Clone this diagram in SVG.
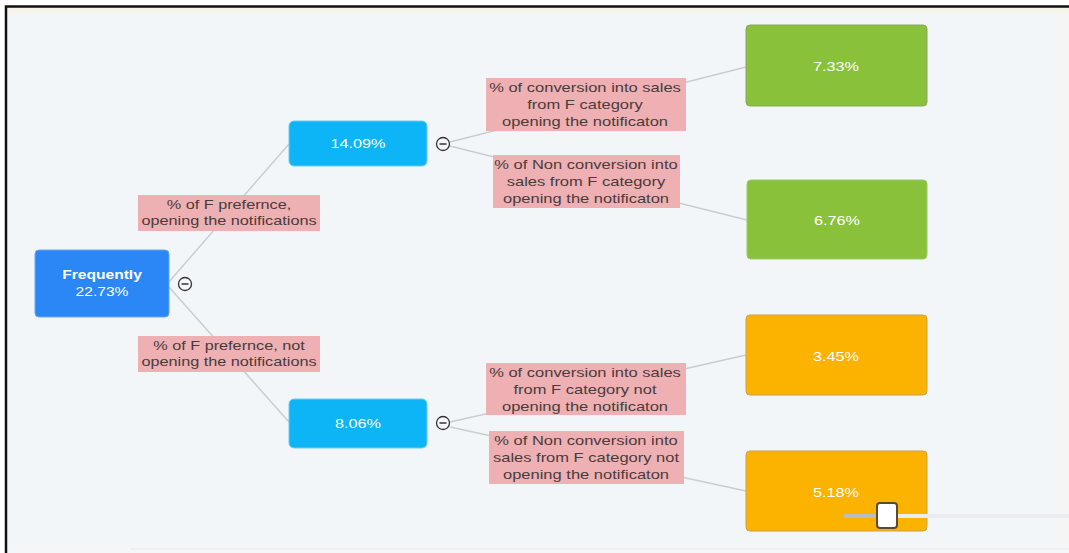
<svg xmlns="http://www.w3.org/2000/svg" width="1069" height="553" viewBox="0 0 1069 553">
<defs>
<style>
.bg{fill:#f3f6f9}
.edge{stroke:#c9cdd1;stroke-width:1.5;fill:none}
.node text{font-family:"Liberation Sans",Arial,sans-serif;font-size:13px;fill:#ffffff;text-anchor:middle}
.lbl rect{fill:#eeb0b2}
.lbl text{font-family:"Liberation Sans",Arial,sans-serif;font-size:13px;fill:#4a3b3c;text-anchor:middle}
.tog circle{fill:#f5f7fa;stroke:#333;stroke-width:1.3}
.tog line{stroke:#333;stroke-width:1.5}
</style>
</defs>
<rect x="0" y="0" width="1069" height="553" fill="#ffffff"/>
<rect x="7" y="7" width="1062" height="546" class="bg"/>
<rect x="8" y="8" width="1061" height="6" fill="#f7f4ec"/>
<rect x="1058" y="14" width="11" height="530" fill="#f5f5f5"/>
<rect x="8" y="544" width="1061" height="9" fill="#f5f6f7"/>
<line x1="130" y1="549" x2="1069" y2="549" stroke="#e6e8ea" stroke-width="1"/>
<path d="M6 553 V6.5 H1069" fill="none" stroke="#111" stroke-width="2.5"/>

<g id="connectors">
<line class="edge" x1="168" y1="283" x2="289" y2="144"/>
<line class="edge" x1="168" y1="286" x2="289" y2="422"/>
<line class="edge" x1="450" y1="142" x2="746" y2="67"/>
<line class="edge" x1="450" y1="146" x2="747" y2="220"/>
<line class="edge" x1="450" y1="422" x2="746" y2="355"/>
<line class="edge" x1="450" y1="427" x2="746" y2="491"/>
</g>

<g id="label-a" class="lbl"><rect x="138" y="195" width="182" height="36"/><g transform="translate(229,0) scale(1.25,1)"><text x="0" y="209">% of F prefernce,</text><text x="0" y="225">opening the notifications</text></g></g>
<g id="label-b" class="lbl"><rect x="138" y="336" width="182" height="36"/><g transform="translate(229,0) scale(1.25,1)"><text x="0" y="350">% of F prefernce, not</text><text x="0" y="366">opening the notifications</text></g></g>
<g id="label-c" class="lbl"><rect x="486" y="78" width="200" height="53"/><g transform="translate(585,0) scale(1.27,1)"><text x="0" y="92">% of conversion into sales</text><text x="0" y="109">from F category</text><text x="0" y="126">opening the notificaton</text></g></g>
<g id="label-d" class="lbl"><rect x="493" y="155" width="187" height="53"/><g transform="translate(586,0) scale(1.27,1)"><text x="0" y="169">% of Non conversion into</text><text x="0" y="186">sales from F category</text><text x="0" y="203">opening the notificaton</text></g></g>
<g id="label-e" class="lbl"><rect x="486" y="363" width="200" height="52"/><g transform="translate(585,0) scale(1.27,1)"><text x="0" y="377">% of conversion into sales</text><text x="0" y="394">from F category not</text><text x="0" y="411">opening the notificaton</text></g></g>
<g id="label-f" class="lbl"><rect x="489" y="431" width="195" height="53"/><g transform="translate(586,0) scale(1.27,1)"><text x="0" y="445">% of Non conversion into</text><text x="0" y="462">sales from F category not</text><text x="0" y="479">opening the notificaton</text></g></g>

<g id="node-frequently" class="node"><rect x="35" y="250" width="134" height="67" rx="4" fill="#2b86f6" stroke="#6aa6f0" stroke-width="1"/><g transform="translate(102,0) scale(1.2,1)"><text x="0" y="279" font-weight="bold">Frequently</text><text x="0" y="296">22.73%</text></g></g>
<g id="node-1409" class="node"><rect x="289" y="121" width="138" height="45" rx="5" fill="#0db5f6" stroke="#6ccdf2" stroke-width="1"/><g transform="translate(358,0) scale(1.25,1)"><text x="0" y="148">14.09%</text></g></g>
<g id="node-806" class="node"><rect x="289" y="399" width="138" height="49" rx="5" fill="#0db5f6" stroke="#6ccdf2" stroke-width="1"/><g transform="translate(358,0) scale(1.25,1)"><text x="0" y="428">8.06%</text></g></g>
<g id="node-733" class="node"><rect x="746" y="25" width="181" height="81" rx="4" fill="#89c13b" stroke="#8aa85e" stroke-width="1"/><g transform="translate(836,0) scale(1.25,1)"><text x="0" y="71">7.33%</text></g></g>
<g id="node-676" class="node"><rect x="747" y="180" width="180" height="79" rx="4" fill="#89c13b" stroke="#9cc86a" stroke-width="1"/><g transform="translate(837,0) scale(1.25,1)"><text x="0" y="225">6.76%</text></g></g>
<g id="node-345" class="node"><rect x="746" y="315" width="181" height="80" rx="4" fill="#fbb300" stroke="#c9a14a" stroke-width="1"/><g transform="translate(836,0) scale(1.25,1)"><text x="0" y="361">3.45%</text></g></g>
<g id="node-518" class="node"><rect x="746" y="451" width="181" height="80" rx="4" fill="#fbb300" stroke="#c9a14a" stroke-width="1"/><g transform="translate(836,0) scale(1.25,1)"><text x="0" y="497">5.18%</text></g></g>

<g id="toggles" class="tog">
<circle cx="185" cy="284" r="6.5"/><line x1="181.5" y1="284" x2="188.5" y2="284"/>
<circle cx="443" cy="144" r="6.5"/><line x1="439.5" y1="144" x2="446.5" y2="144"/>
<circle cx="443" cy="423" r="6.5"/><line x1="439.5" y1="423" x2="446.5" y2="423"/>
</g>

<g id="slider">
<rect x="843" y="514" width="50" height="4" rx="2" fill="#b9bec4"/>
<rect x="893" y="514" width="176" height="4" fill="#eaeced"/>
<rect x="877" y="503" width="20" height="25" rx="3" fill="#ffffff" stroke="#5a4a30" stroke-width="2"/>
</g>
</svg>
